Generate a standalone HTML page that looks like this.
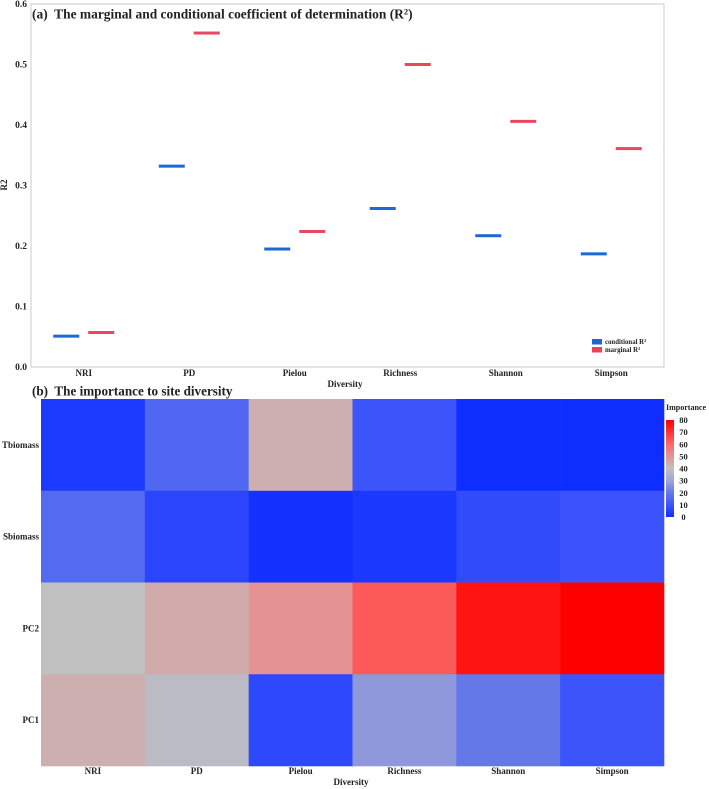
<!DOCTYPE html>
<html>
<head>
<meta charset="utf-8">
<style>
html,body{margin:0;padding:0;background:#fff;}
body{width:709px;height:789px;overflow:hidden;}
svg{display:block;}
text{font-family:"Liberation Serif",serif;font-weight:bold;fill:#222;}
</style>
</head>
<body>
<svg id="chart" width="709" height="789" viewBox="0 0 709 789" xmlns="http://www.w3.org/2000/svg">
<g id="layer" style="filter:blur(0.35px)"></g>
</svg>
<script>
var categories = ["NRI","PD","Pielou","Richness","Shannon","Simpson"];
var conditionalR2 = [0.051,0.332,0.195,0.262,0.217,0.187];
var marginalR2 = [0.057,0.552,0.224,0.500,0.406,0.361];
var yTicks = [0,0.1,0.2,0.3,0.4,0.5,0.6];
var predictors = ["Tbiomass","Sbiomass","PC2","PC1"];
var importanceTbiomass = [3,15,44,10,0,0];
var importanceSbiomass = [16,6,1,2.5,7.5,9.5];
var importancePC2 = [40,45,51,63,76,80];
var importancePC1 = [44,38,7,27,20,10];
var colorTicks = [0,10,20,30,40,50,60,70,80];

var root = document.getElementById('layer');
function make(tag, attrs, parent, txt){
  var e = document.createElementNS('http://www.w3.org/2000/svg', tag);
  for (var k in attrs) e.setAttribute(k, attrs[k]);
  if (txt !== undefined) e.textContent = txt;
  (parent || root).appendChild(e);
  return e;
}
/* panel (a) scales */
var a = {l:31, r:664, t:4, b:367};
function xA(i){ return a.l + (a.r - a.l) * (i + 0.5) / categories.length; }
function yA(v){ return a.b - (v / 0.6) * (a.b - a.t); }
/* panel (b) scales */
var h = {l:41, r:664, t:399, b:766};
function xH(i){ return h.l + (h.r - h.l) * i / categories.length; }
function yH(j){ return h.t + (h.b - h.t) * j / predictors.length; }
function mix(p, q, t){ return Math.round(p + (q - p) * t); }
function colorOf(v){
  var ramp = [[14,46,255],[60,85,250],[100,120,232],[160,165,212],[192,192,192],[225,150,150],[250,105,105],[255,50,50],[255,0,0]];
  var pos = Math.max(0, Math.min(0.9999, v / 80)) * (ramp.length - 1);
  var n = Math.floor(pos), u = pos - n, A = ramp[n], B = ramp[n + 1];
  return 'rgb(' + mix(A[0],B[0],u) + ',' + mix(A[1],B[1],u) + ',' + mix(A[2],B[2],u) + ')';
}

/* Panel (a) */
var axes = make('path', {d:'M'+a.l+' '+a.t+'H'+(a.r)+'V'+a.b+'H'+a.l+'Z', fill:'#fff', stroke:'#d4d4d4', 'stroke-width':1.2});



yTicks.forEach(function(v){
  var lab = make('text', {x:27, y:yA(v)+3, 'text-anchor':'end', 'font-size':9.5}, root, v.toFixed(1));
  
  
});

categories.forEach(function(c, i){
  var lab = make('text', {x:xA(i), y:376, 'text-anchor':'middle', 'font-size':9}, root, c);
  
  

  var cond = make('rect', {x:xA(i)-30.5, y:yA(conditionalR2[i])-1.5, width:26, height:3, fill:'#1a69d6'});
  
  

  var marg = make('rect', {x:xA(i)+4.5, y:yA(marginalR2[i])-1.5, width:26, height:3, fill:'#e8475f'});
  
  
});

var titleA = make('text', {x:32, y:18.5, 'font-size':13.45});


titleA.innerHTML = '(a)\u00A0 The marginal and conditional coefficient of determination (R<tspan dy="-4" font-size="8.5">2</tspan><tspan dy="4">)</tspan>';

var yTitle = make('text', {x:7, y:185, 'text-anchor':'middle', 'font-size':9, transform:'rotate(-90 7 185)'}, root, 'R2');



var xTitleA = make('text', {x:345, y:387, 'text-anchor':'middle', 'font-size':9}, root, 'Diversity');



var lg1 = make('rect', {x:592, y:339, width:10, height:5.5, fill:'#1a69d6'});


var lg1t = make('text', {x:605, y:344, 'font-size':6.8});


lg1t.innerHTML = 'conditional R<tspan dy="-2" font-size="4.5">2</tspan>';
var lg2 = make('rect', {x:592, y:347, width:10, height:5.5, fill:'#ee4058'});


var lg2t = make('text', {x:605, y:352, 'font-size':6.8});


lg2t.innerHTML = 'marginal R<tspan dy="-2" font-size="4.5">2</tspan>';

/* Panel (b) */
var titleB = make('text', {x:32, y:395.5, 'font-size':13.15}, root, '(b)\u00A0 The importance to site diversity');



var matrix = [importanceTbiomass, importanceSbiomass, importancePC2, importancePC1];
predictors.forEach(function(p, j){
  var lab = make('text', {x:39, y:yH(j)+(h.b-h.t)/predictors.length/2+3, 'text-anchor':'end', 'font-size':9}, root, p);
  
  
  categories.forEach(function(c, i){
    var cell = make('rect', {x:xH(i), y:yH(j), width:xH(i+1)-xH(i)+0.3, height:yH(j+1)-yH(j)+0.3, fill:colorOf(matrix[j][i])});
    
    
  });
});
categories.forEach(function(c, i){
  var lab = make('text', {x:(xH(i)+xH(i+1))/2, y:774, 'text-anchor':'middle', 'font-size':9}, root, c);
  
  
});
var xTitleB = make('text', {x:351, y:785, 'text-anchor':'middle', 'font-size':9}, root, 'Diversity');



/* Colour bar */
var cb = {l:666, r:674, t:420, b:517, max:80};
function yC(v){ return cb.b - (v / cb.max) * (cb.b - cb.t); }
var defs = make('defs', {});
var grad = make('linearGradient', {id:'cbGrad', x1:0, y1:1, x2:0, y2:0}, defs);
colorTicks.forEach(function(v){
  make('stop', {offset:(v / cb.max), 'stop-color':colorOf(v)}, grad);
});
var bar = make('rect', {x:cb.l, y:cb.t, width:cb.r-cb.l, height:cb.b-cb.t, fill:'url(#cbGrad)'});


colorTicks.forEach(function(v){
  var tk = make('text', {x:683.5, y:yC(v)+3, 'text-anchor':'middle', 'font-size':8.5}, root, String(v));
  
  
});
var cbTitle = make('text', {x:666, y:410, 'font-size':8}, root, 'Importance');


</script>
</body>
</html>
